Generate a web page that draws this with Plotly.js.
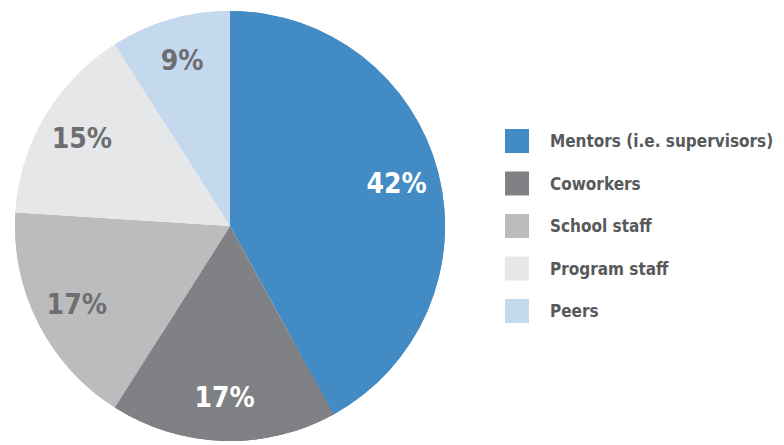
<!DOCTYPE html>
<html><head><meta charset="utf-8">
<script src="https://cdn.plot.ly/plotly-3.0.1.min.js"></script>
<style>html,body{margin:0;padding:0;background:#fff}#chart{width:784px;height:445px}</style>
</head><body><div id="chart"></div>
<script>
const categories = ["Mentors (i.e. supervisors)", "Coworkers", "School staff", "Program staff", "Peers"];
const values = [42, 17, 17, 15, 9];
const textLabels = ["42%", "17%", "17%", "15%", "9%"];
const colors = ["#428bc4", "#808184", "#bbbcbe", "#e6e7e9", "#c5d9ee"];
const textColors = ["#ffffff", "#ffffff", "#6d6e71", "#6d6e71", "#6d6e71"];

const W = 784, H = 445;
const FONT = "DejaVu Sans Condensed, Liberation Sans Narrow, sans-serif";

const shapes = [], annotations = [];
const legX0 = 505, legSw = 24, legTextX = 548, legY0 = 141, legStep = 42.5;
categories.forEach((c, i) => {
  const cy = legY0 + i * legStep;
  shapes.push({type: "rect", xref: "paper", yref: "paper",
    x0: legX0 / W, x1: (legX0 + legSw) / W,
    y0: 1 - (cy + legSw / 2) / H, y1: 1 - (cy - legSw / 2) / H,
    fillcolor: colors[i], line: {width: 0}});
  annotations.push({xref: "paper", yref: "paper", x: legTextX / W, y: 1 - cy / H,
    xanchor: "left", yanchor: "middle", showarrow: false, text: "<b>" + c + "</b>",
    font: {family: FONT, size: 17, color: "#58595b"}});
});

const domain = {x: [15 / W, 445 / W], y: [4 / H, 434 / H]};
const data = [{
  type: "pie", labels: categories, values: values,
  textinfo: "none", sort: false, direction: "clockwise", rotation: 0,
  marker: {colors: colors, line: {color: "#ffffff", width: 0}},
  hoverinfo: "none", showlegend: false, domain: domain
}, {
  type: "pie", labels: categories, values: values, text: textLabels, hole: 0.6,
  textinfo: "text", textposition: "inside", insidetextorientation: "horizontal",
  sort: false, direction: "clockwise", rotation: 0,
  marker: {colors: colors, line: {color: "#ffffff", width: 0}},
  textfont: {family: FONT, size: 28, color: textColors, weight: "bold"},
  hoverinfo: "none", showlegend: false, domain: domain
}];

const layout = {
  width: W, height: H, margin: {l: 0, r: 0, t: 0, b: 0},
  paper_bgcolor: "#ffffff", plot_bgcolor: "#ffffff",
  showlegend: false, shapes: shapes, annotations: annotations
};
Plotly.newPlot("chart", data, layout, {displayModeBar: false, staticPlot: true});
</script></body></html>
